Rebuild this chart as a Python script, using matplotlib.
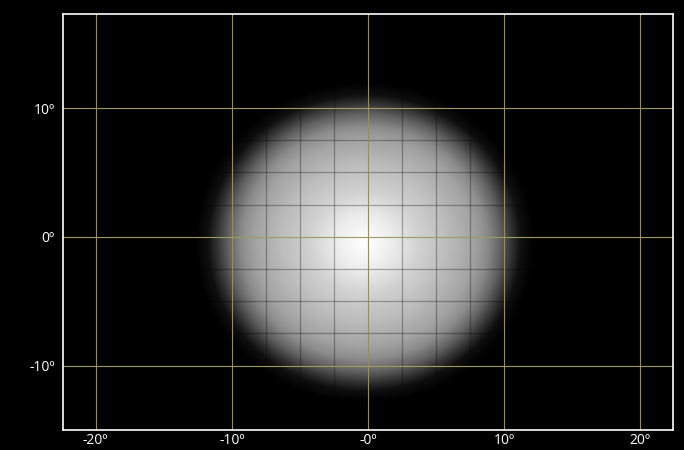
import numpy as np
import matplotlib

matplotlib.use("Agg")
import matplotlib.pyplot as plt

plt.rcParams["font.family"] = ["Open Sans", "DejaVu Sans"]

# Axis ticks (degrees) and labels as shown
X_TICKS = [-20, -10, 0, 10, 20]
X_LABELS = ["-20º", "-10º", "-0º", "10º", "20º"]
Y_TICKS = [-10, 0, 10]
Y_LABELS = ["-10º", "0º", "10º"]
X_LIM = (-22.4, 22.4)
Y_LIM = (-15.0, 17.3)

# Radial brightness profile of the light spot
SPOT_CENTER = (-0.3, -0.5)
PROFILE_R = [0.0, 2.0, 4.0, 6.0, 8.0, 9.0, 10.0, 10.8, 11.5, 12.5, 40.0]
PROFILE_V = [1.0, 0.93, 0.82, 0.74, 0.64, 0.55, 0.38, 0.20, 0.06, 0.0, 0.0]

FINE_STEP = 2.5


def main():
    fig = plt.figure(figsize=(6.84, 4.5), dpi=100, facecolor="black")
    ax = fig.add_axes([0.0921, 0.0444, 0.8919, 0.9245])
    ax.set_facecolor("black")

    xs = np.linspace(X_LIM[0], X_LIM[1], 600)
    ys = np.linspace(Y_LIM[0], Y_LIM[1], 440)
    gx, gy = np.meshgrid(xs, ys)
    r = np.hypot(gx - SPOT_CENTER[0], gy - SPOT_CENTER[1])
    img = np.interp(r, PROFILE_R, PROFILE_V)
    ax.imshow(img, cmap="gray", vmin=0, vmax=1, origin="lower",
              extent=[X_LIM[0], X_LIM[1], Y_LIM[0], Y_LIM[1]],
              aspect="auto", interpolation="bilinear", zorder=0)

    # fine dark grid (only visible over the bright spot)
    fine_x = np.arange(-20, 20.1, FINE_STEP)
    fine_y = np.arange(-15, 17.1, FINE_STEP)
    for v in fine_x:
        if v % 10:
            ax.axvline(v, color="black", alpha=0.3, lw=0.9, zorder=1)
    for v in fine_y:
        if v % 10:
            ax.axhline(v, color="black", alpha=0.3, lw=0.9, zorder=1)

    # main yellow grid
    for v in X_TICKS:
        ax.axvline(v, color="#a08c44", lw=0.8, zorder=2)
    for v in Y_TICKS:
        ax.axhline(v, color="#a09a60", lw=0.8, zorder=2)

    ax.set_xlim(*X_LIM)
    ax.set_ylim(*Y_LIM)
    ax.set_xticks(X_TICKS, X_LABELS)
    ax.set_yticks(Y_TICKS, Y_LABELS)
    ax.tick_params(length=0, colors="white", labelsize=10)
    ax.tick_params(axis="x", pad=2)
    ax.tick_params(axis="y", pad=6)
    for s in ax.spines.values():
        s.set_color("white")
        s.set_linewidth(1.2)

    fig.savefig("out.png", dpi=100, facecolor="black")
    plt.close(fig)


if __name__ == "__main__":
    main()
